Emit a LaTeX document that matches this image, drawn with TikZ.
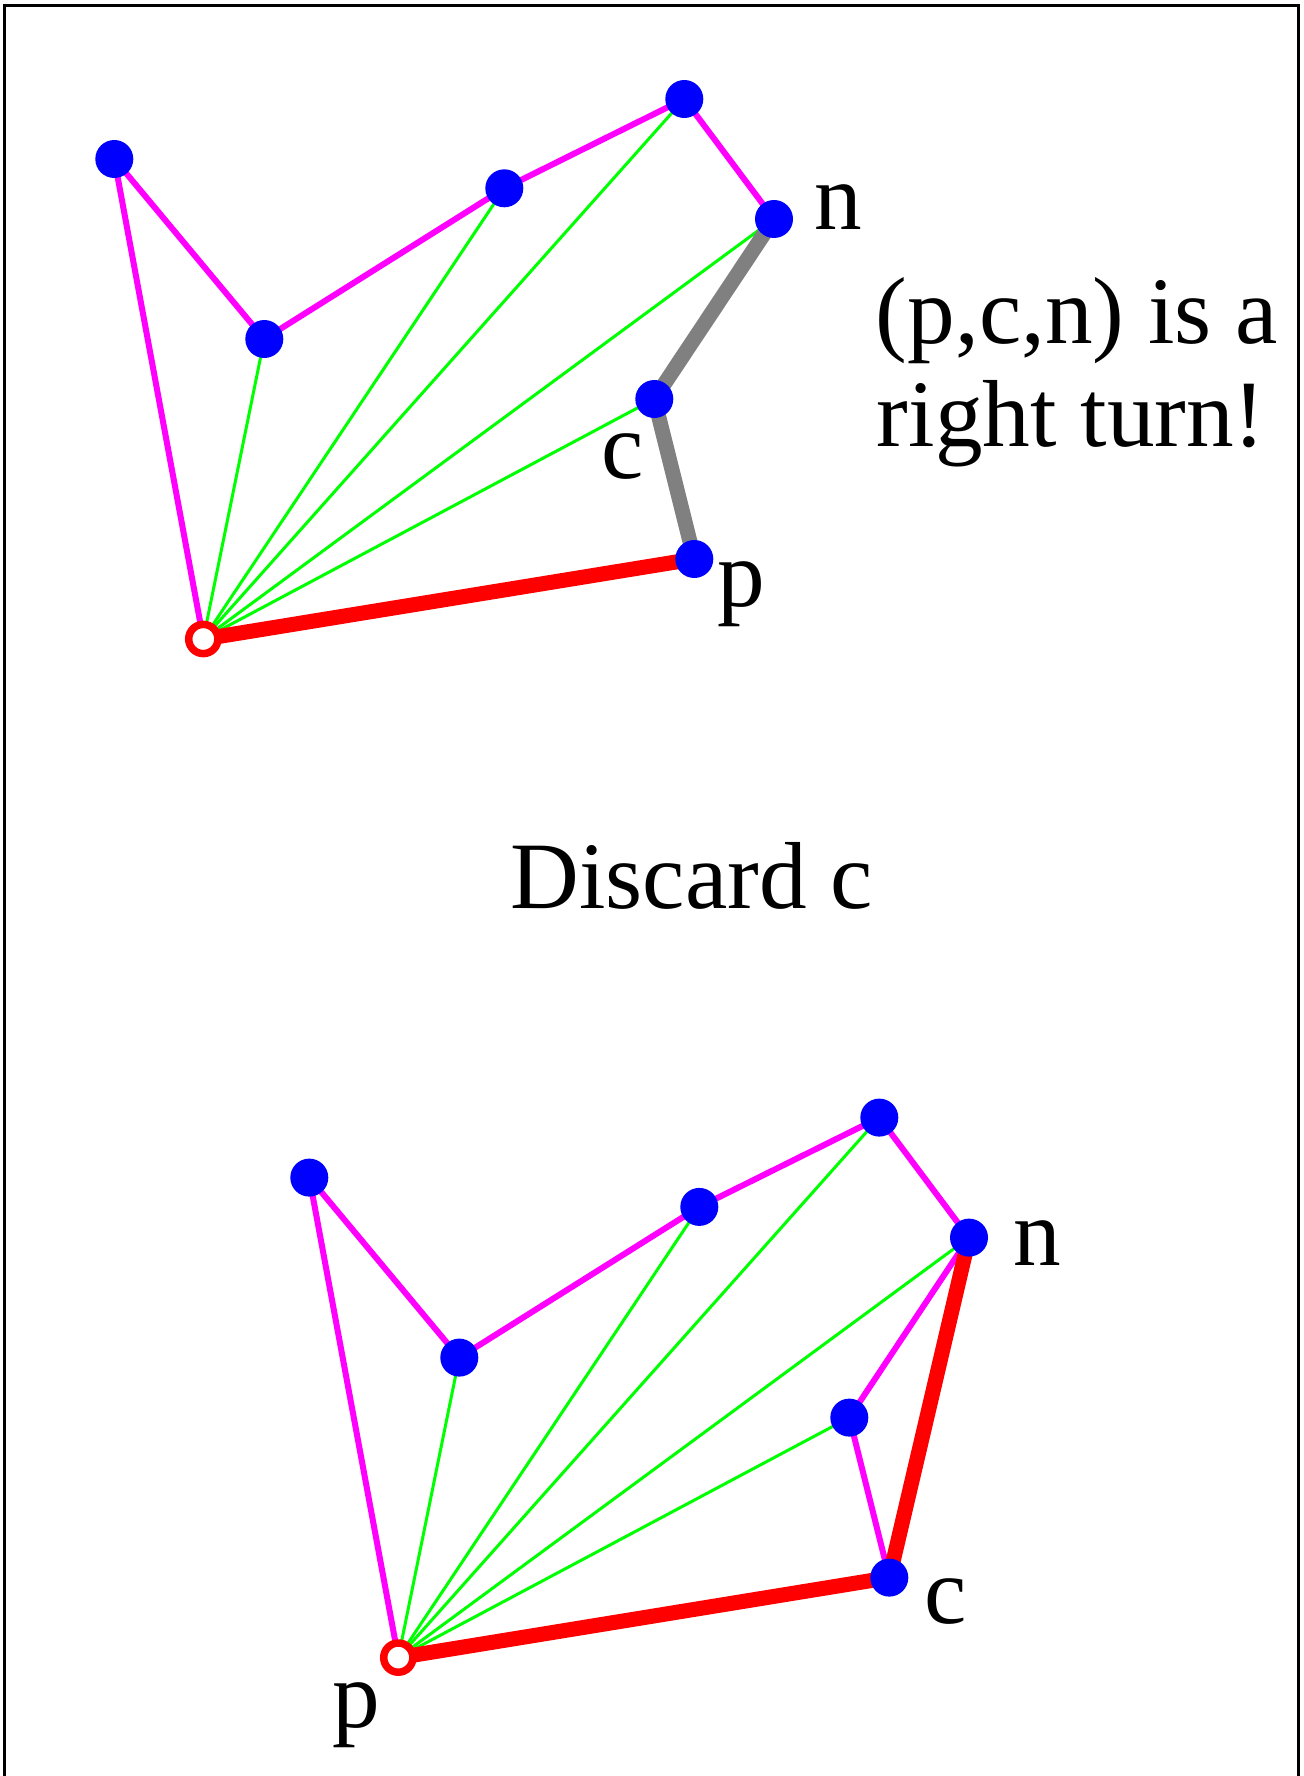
\documentclass[tikz,border=0pt]{standalone}
\usepackage{fontspec}
\setmainfont{Liberation Serif}
\usetikzlibrary{backgrounds}
\definecolor{cdot}{HTML}{0000FF}
\definecolor{chull}{HTML}{FF00FF}
\definecolor{cfan}{HTML}{00FF00}
\definecolor{credge}{HTML}{FF0000}
\definecolor{cchk}{HTML}{808080}

\begin{document}
\begin{tikzpicture}[
  x=0.5pt, y=-0.5pt,
  font=\fontsize{47.6pt}{52pt}\selectfont,
  pt/.style={circle, fill=cdot, inner sep=0pt, minimum size=19pt},
  anchorpt/.style={circle, draw=credge, fill=white, line width=3.75pt,
                   inner sep=0pt, minimum size=14.6pt},
  lbl/.style={anchor=base west, inner sep=0pt},
  hull/.style={draw=chull, line width=3pt},
  fan/.style={draw=cfan, line width=1.5pt},
  redge/.style={draw=credge, line width=7.5pt},
  chk/.style={draw=cchk, line width=7.5pt},
  boxline/.style={draw=black, line width=1.5pt},
  ]
\useasboundingbox (0,0) rectangle (1303,1776);
% ---- frame (open at the bottom)
\draw[boxline] (4,1776) -- (4,5.3) -- (1298.3,5.3) -- (1298.3,1776);
% ---- top: before the test
\node[anchorpt] (o1) at (203.3,639) {};
\node[pt] (a1) at (114.3,159) {};
\node[pt] (b1) at (264.3,339) {};
\node[pt] (c1) at (504.3,188.3) {};
\node[pt] (d1) at (684.3,99) {};
\node[pt] (n1) at (774,219) {};
\node[pt] (m1) at (654.3,399) {};
\node[pt] (p1) at (694.3,559) {};
\node[lbl] (ln1) at (814,229) {n};
\node[lbl] (lc1) at (600.6,478) {c};
\node[lbl] (lp1) at (717.5,606.7) {p};
\node[lbl] (msg1) at (875.5,343.3) {(p,c,n) is a};
\node[lbl] (msg2) at (876.5,446.7) {right turn!};
\begin{scope}[on background layer]
  \foreach \v in {b1,c1,d1,n1,m1}
    \draw[fan] (o1.center) -- (\v.center);
  \draw[hull] (o1.center) -- (a1.center) -- (b1.center) -- (c1.center)
    -- (d1.center) -- (n1.center);
  \draw[chk] (n1.center) -- (m1.center) -- (p1.center);
  \draw[redge] (o1.center) -- (p1.center);
\end{scope}
% ---- middle caption
\node[anchor=base, inner sep=0pt] (discard) at (691.7,908.3) {Discard c};
% ---- bottom: after discarding
\node[anchorpt] (o2) at (398.3,1657.6) {};
\node[pt] (a2) at (309.3,1177.6) {};
\node[pt] (b2) at (459.3,1357.6) {};
\node[pt] (c2) at (699.3,1206.9) {};
\node[pt] (d2) at (879.3,1117.6) {};
\node[pt] (n2) at (969,1237.6) {};
\node[pt] (m2) at (849.3,1417.6) {};
\node[pt] (p2) at (889.3,1577.6) {};
\node[lbl] (ln2) at (1013.5,1265.7) {n};
\node[lbl] (lc2) at (923.6,1623) {c};
\node[lbl] (lp2) at (332.5,1727) {p};
\begin{scope}[on background layer]
  \foreach \v in {b2,c2,d2,n2,m2}
    \draw[fan] (o2.center) -- (\v.center);
  \draw[hull] (o2.center) -- (a2.center) -- (b2.center) -- (c2.center)
    -- (d2.center) -- (n2.center) -- (m2.center) -- (p2.center);
  \draw[redge] (o2.center) -- (p2.center) -- (n2.center);
\end{scope}
\end{tikzpicture}
\end{document}
